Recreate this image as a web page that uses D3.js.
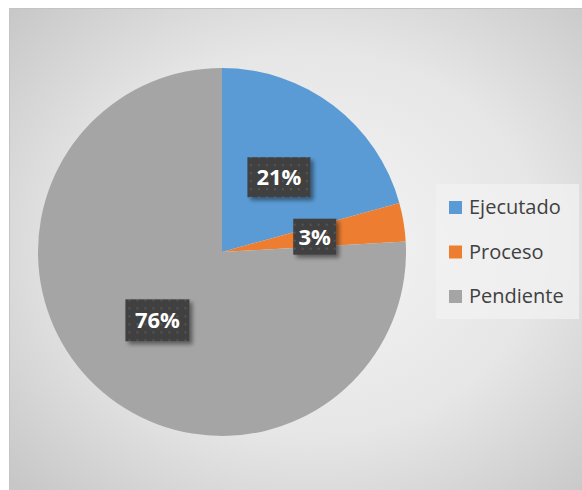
<!DOCTYPE html>
<html>
<head>
<meta charset="utf-8">
<script src="https://cdn.jsdelivr.net/npm/d3@7"></script>
<style>
  html, body { margin: 0; padding: 0; background: #fff; }
</style>
</head>
<body>
<div id="chart"></div>
<script>
// chart data
const categories = ["Ejecutado", "Proceso", "Pendiente"];
const values = [0.207, 0.034, 0.759];
const pctLabels = ["21%", "3%", "76%"];
const colors = ["#5b9bd5", "#ed7d31", "#a5a5a5"];

var width = 582, height = 490;

var svg = d3.select("#chart")
    .append("svg")
    .attr("width", width)
    .attr("height", height);

var defs = svg.append("defs");

// background gradient of the chart area
var grad = defs.append("radialGradient")
    .attr("id", "bg")
    .attr("cx", "52%").attr("cy", "48%").attr("r", "72%");
grad.append("stop").attr("offset", "0%").attr("stop-color", "#f5f5f5");
grad.append("stop").attr("offset", "55%").attr("stop-color", "#e6e6e6");
grad.append("stop").attr("offset", "100%").attr("stop-color", "#c6c6c6");

// dotted pattern for the data labels
var pat = defs.append("pattern")
    .attr("id", "dots")
    .attr("patternUnits", "userSpaceOnUse")
    .attr("width", 8).attr("height", 8);
pat.append("rect").attr("width", 8).attr("height", 8).attr("fill", "#404040");
pat.append("rect").attr("x", 3).attr("y", 3).attr("width", 2).attr("height", 2).attr("fill", "#555555");

var shadow = defs.append("filter").attr("id", "shadow")
    .attr("x", "-20%").attr("y", "-20%").attr("width", "150%").attr("height", "150%");
shadow.append("feGaussianBlur").attr("in", "SourceAlpha").attr("stdDeviation", 2);
shadow.append("feOffset").attr("dx", 3).attr("dy", 3).attr("result", "ob");
shadow.append("feComponentTransfer").append("feFuncA").attr("type", "linear").attr("slope", 0.45);
var merge = shadow.append("feMerge");
merge.append("feMergeNode");
merge.append("feMergeNode").attr("in", "SourceGraphic");

// chart area
svg.append("rect")
    .attr("x", 9.5).attr("y", 8.5)
    .attr("width", 580).attr("height", 490)
    .attr("fill", "url(#bg)")
    .attr("stroke", "#c4c4c4");

// pie
var cx = 222, cy = 252, radius = 184;
var pie = d3.pie().sort(null).value(d => d);
var arcs = pie(values);
var arc = d3.arc().innerRadius(0).outerRadius(radius);
var labelArc = d3.arc().innerRadius(94).outerRadius(94);

var g = svg.append("g").attr("transform", `translate(${cx},${cy})`);

g.selectAll("path.slice")
    .data(arcs)
    .enter().append("path")
    .attr("class", "slice")
    .attr("d", arc)
    .attr("fill", (d, i) => colors[i]);

// data labels
var labelSizes = [[63, 40], [43, 36], [64, 42]];
var lab = g.selectAll("g.lab")
    .data(arcs)
    .enter().append("g")
    .attr("class", "lab")
    .attr("transform", d => `translate(${labelArc.centroid(d)})`);

lab.append("rect")
    .attr("x", (d, i) => -labelSizes[i][0] / 2)
    .attr("y", (d, i) => -labelSizes[i][1] / 2)
    .attr("width", (d, i) => labelSizes[i][0])
    .attr("height", (d, i) => labelSizes[i][1])
    .attr("fill", "url(#dots)")
    .attr("filter", "url(#shadow)");

lab.append("text")
    .attr("text-anchor", "middle")
    .attr("dy", "0.36em")
    .attr("fill", "#ffffff")
    .style("font-family", "'Open Sans', sans-serif")
    .style("font-weight", "bold")
    .style("font-size", "22px")
    .text((d, i) => pctLabels[i]);

// legend
var legend = svg.append("g");
legend.append("rect")
    .attr("x", 436).attr("y", 184)
    .attr("width", 143).attr("height", 135)
    .attr("fill", "#f2f2f2")
    .attr("fill-opacity", 0.75);

var item = legend.selectAll("g.item")
    .data(categories)
    .enter().append("g")
    .attr("class", "item")
    .attr("transform", (d, i) => `translate(449,${201 + i * 44.5})`);

item.append("rect")
    .attr("width", 13).attr("height", 13)
    .attr("fill", (d, i) => colors[i]);

item.append("text")
    .attr("x", 20)
    .attr("y", 13)
    .attr("fill", "#404040")
    .style("font-family", "'Open Sans', sans-serif")
    .style("font-size", "20px")
    .text(d => d);
</script>
</body>
</html>
